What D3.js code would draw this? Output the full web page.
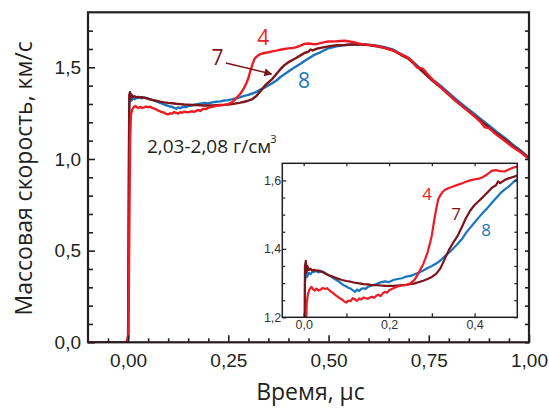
<!DOCTYPE html>
<html>
<head>
<meta charset="utf-8">
<script src="https://cdn.jsdelivr.net/npm/d3@7/dist/d3.min.js"></script>
<style>
  html, body { margin: 0; padding: 0; background: #fff; }
  svg { display: block; font-family: "Open Sans", "Noto Sans", sans-serif; }
</style>
</head>
<body>
<svg id="chart" width="549" height="408"></svg>
<script>
// ---------------- data ----------------
const seriesNames = ["8", "7", "4"];
const series8 = [[-0.1,0],[-0.004,0],[0,0.02],[0.002,0.9],[0.003,1.3],[0.005,1.325],[0.008,1.318],[0.012,1.33],[0.016,1.326],[0.02,1.332],[0.025,1.333],[0.03,1.335],[0.035,1.331],[0.04,1.336],[0.045,1.333],[0.05,1.33],[0.055,1.325],[0.06,1.322],[0.065,1.318],[0.07,1.314],[0.075,1.31],[0.08,1.306],[0.085,1.302],[0.09,1.297],[0.095,1.293],[0.1,1.29],[0.105,1.286],[0.11,1.284],[0.115,1.279],[0.12,1.274],[0.125,1.281],[0.13,1.277],[0.135,1.283],[0.14,1.285],[0.145,1.283],[0.15,1.289],[0.16,1.293],[0.17,1.297],[0.18,1.302],[0.19,1.305],[0.2,1.303],[0.21,1.309],[0.22,1.312],[0.23,1.314],[0.24,1.319],[0.25,1.321],[0.26,1.326],[0.27,1.331],[0.28,1.337],[0.29,1.344],[0.3,1.35],[0.31,1.357],[0.32,1.366],[0.33,1.378],[0.34,1.389],[0.35,1.401],[0.36,1.414],[0.37,1.428],[0.38,1.447],[0.39,1.462],[0.4,1.477],[0.41,1.492],[0.42,1.506],[0.43,1.519],[0.44,1.534],[0.45,1.548],[0.46,1.562],[0.47,1.573],[0.48,1.582],[0.49,1.594],[0.5,1.604],[0.52,1.615],[0.54,1.621],[0.56,1.624],[0.58,1.625],[0.6,1.623],[0.62,1.618],[0.64,1.61],[0.66,1.598],[0.68,1.573],[0.7,1.551],[0.72,1.512],[0.74,1.472],[0.76,1.433],[0.78,1.398],[0.8,1.36],[0.82,1.322],[0.84,1.287],[0.86,1.252],[0.88,1.217],[0.9,1.183],[0.92,1.147],[0.94,1.115],[0.96,1.078],[0.98,1.045],[1.0,1.008]];
const series7 = [[-0.1,0],[-0.004,0],[0,0.02],[0.002,0.9],[0.003,1.35],[0.005,1.365],[0.007,1.33],[0.009,1.35],[0.012,1.338],[0.016,1.342],[0.02,1.336],[0.025,1.339],[0.03,1.336],[0.035,1.337],[0.04,1.333],[0.045,1.332],[0.05,1.328],[0.06,1.322],[0.07,1.318],[0.08,1.313],[0.09,1.309],[0.1,1.306],[0.11,1.304],[0.12,1.301],[0.13,1.299],[0.14,1.297],[0.15,1.296],[0.16,1.294],[0.17,1.294],[0.18,1.293],[0.19,1.292],[0.2,1.292],[0.21,1.292],[0.22,1.293],[0.23,1.294],[0.24,1.295],[0.25,1.297],[0.26,1.299],[0.27,1.303],[0.28,1.307],[0.29,1.312],[0.3,1.318],[0.31,1.327],[0.32,1.343],[0.33,1.37],[0.34,1.397],[0.35,1.418],[0.36,1.437],[0.37,1.463],[0.38,1.49],[0.39,1.512],[0.4,1.528],[0.41,1.54],[0.42,1.552],[0.43,1.565],[0.44,1.578],[0.45,1.586],[0.455,1.597],[0.46,1.592],[0.47,1.601],[0.48,1.606],[0.49,1.61],[0.5,1.614],[0.52,1.62],[0.54,1.622],[0.56,1.625],[0.58,1.624],[0.6,1.621],[0.62,1.615],[0.64,1.606],[0.66,1.593],[0.68,1.568],[0.7,1.545],[0.72,1.505],[0.74,1.465],[0.76,1.425],[0.78,1.39],[0.8,1.35],[0.82,1.312],[0.84,1.277],[0.86,1.242],[0.88,1.207],[0.9,1.172],[0.92,1.137],[0.94,1.106],[0.96,1.07],[0.98,1.04],[1.0,1.004]];
const series4 = [[-0.1,0],[-0.003,0],[0.001,0.05],[0.003,0.6],[0.005,1.1],[0.007,1.24],[0.01,1.268],[0.014,1.283],[0.018,1.289],[0.022,1.282],[0.026,1.278],[0.03,1.284],[0.035,1.278],[0.04,1.281],[0.045,1.286],[0.05,1.283],[0.055,1.285],[0.06,1.279],[0.065,1.274],[0.07,1.27],[0.075,1.264],[0.08,1.26],[0.085,1.255],[0.09,1.252],[0.095,1.246],[0.1,1.243],[0.105,1.249],[0.11,1.247],[0.115,1.256],[0.12,1.252],[0.125,1.248],[0.13,1.255],[0.135,1.252],[0.14,1.258],[0.145,1.256],[0.15,1.254],[0.155,1.258],[0.16,1.26],[0.165,1.257],[0.17,1.263],[0.175,1.266],[0.18,1.262],[0.185,1.27],[0.19,1.274],[0.195,1.272],[0.2,1.279],[0.21,1.285],[0.22,1.29],[0.23,1.293],[0.24,1.295],[0.25,1.299],[0.26,1.31],[0.27,1.332],[0.28,1.356],[0.285,1.372],[0.29,1.39],[0.295,1.413],[0.3,1.44],[0.305,1.48],[0.31,1.515],[0.315,1.545],[0.32,1.557],[0.325,1.566],[0.33,1.572],[0.34,1.578],[0.35,1.582],[0.36,1.587],[0.37,1.591],[0.38,1.596],[0.39,1.6],[0.4,1.603],[0.41,1.605],[0.42,1.61],[0.43,1.618],[0.44,1.628],[0.45,1.63],[0.46,1.627],[0.47,1.626],[0.48,1.632],[0.49,1.637],[0.5,1.641],[0.52,1.642],[0.54,1.645],[0.56,1.638],[0.58,1.628],[0.6,1.622],[0.62,1.616],[0.64,1.605],[0.66,1.592],[0.68,1.572],[0.7,1.55],[0.71,1.53],[0.72,1.5],[0.735,1.493],[0.75,1.455],[0.76,1.43],[0.78,1.39],[0.8,1.352],[0.82,1.312],[0.84,1.276],[0.86,1.24],[0.88,1.2],[0.89,1.172],[0.9,1.168],[0.92,1.13],[0.94,1.098],[0.96,1.064],[0.98,1.035],[1.0,1.0]];

const xTickValues = [0, 0.25, 0.5, 0.75, 1.0];
const xTickLabels = ["0,00", "0,25", "0,50", "0,75", "1,00"];
const xMinorTicks = [-0.05,0.05,0.1,0.15,0.2,0.3,0.35,0.4,0.45,0.55,0.6,0.65,0.7,0.8,0.85,0.9,0.95];
const yTickValues = [0, 0.5, 1.0, 1.5];
const yTickLabels = ["0,0", "0,5", "1,0", "1,5"];
const yMinorTicks = [0.1,0.2,0.3,0.4,0.6,0.7,0.8,0.9,1.1,1.2,1.3,1.4,1.6,1.7];

const insetXTickValues = [0, 0.2, 0.4];
const insetXTickLabels = ["0,0", "0,2", "0,4"];
const insetXMinorTicks = [0.1, 0.3];
const insetYTickValues = [1.2, 1.4, 1.6];
const insetYTickLabels = ["1,2", "1,4", "1,6"];
const insetYMinorTicks = [1.25, 1.3, 1.35, 1.45, 1.5, 1.55];

const xTitle = "Время, μс";
const yTitle = "Массовая скорость, км/с";
const densityText = "2,03-2,08 г/см";

// ---------------- style ----------------
const colors = { "4": "#ed1c24", "7": "#7d1419", "8": "#1b75bc" };
const axisColor = "#231f20";
const textColor = "#231f20";

const svg = d3.select("#chart");

// main scales
const x = d3.scaleLinear().domain([-0.1, 1.0]).range([88, 529]);
const y = d3.scaleLinear().domain([0, 1.8]).range([342.3, 12.3]);
// inset scales
const xi = d3.scaleLinear().domain([-0.05, 0.5]).range([282.3, 517.3]);
const yi = d3.scaleLinear().domain([1.2, 1.65]).range([317.3, 163.3]);

const dataMap = { "4": series4, "7": series7, "8": series8 };

const defs = svg.append("defs");
defs.append("clipPath").attr("id", "clipMain").append("rect")
  .attr("x", x(-0.1)).attr("y", y(1.8)).attr("width", x(1.0) - x(-0.1)).attr("height", y(0) - y(1.8));
defs.append("clipPath").attr("id", "clipInset").append("rect")
  .attr("x", xi(-0.05)).attr("y", yi(1.65)).attr("width", xi(0.5) - xi(-0.05)).attr("height", yi(1.2) - yi(1.65));
defs.append("marker").attr("id", "arrow").attr("viewBox", "0 0 10 10")
  .attr("refX", 9).attr("refY", 5).attr("markerWidth", 10).attr("markerHeight", 8)
  .attr("markerUnits", "userSpaceOnUse").attr("orient", "auto")
  .append("path").attr("d", "M0,0 L10,5 L0,10 z").attr("fill", colors["7"]);

// ---------------- main lines ----------------
const lineMain = d3.line().x(d => x(d[0])).y(d => y(d[1]));
const gMain = svg.append("g").attr("clip-path", "url(#clipMain)");
seriesNames.forEach(n => {
  gMain.append("path").datum(dataMap[n]).attr("d", lineMain)
    .attr("fill", "none").attr("stroke", colors[n]).attr("stroke-width", 2.4)
    .attr("stroke-linejoin", "round");
});

// ---------------- main axes ----------------
function styleAxis(g) {
  g.select(".domain").remove();
  g.selectAll("line").attr("stroke", axisColor).attr("stroke-width", 1.6);
  g.selectAll("text").attr("fill", textColor);
}
svg.append("g").attr("transform", `translate(0,${y(0)})`)
  .call(d3.axisBottom(x).tickValues(xMinorTicks).tickFormat("").tickSizeInner(-4).tickSizeOuter(0))
  .call(styleAxis);
svg.append("g").attr("transform", `translate(0,${y(0)})`)
  .call(d3.axisBottom(x).tickValues(xTickValues).tickFormat((d, i) => xTickLabels[i]).tickSizeInner(-7).tickSizeOuter(0).tickPadding(11))
  .call(styleAxis)
  .selectAll("text").attr("font-size", 19);
svg.append("g").attr("transform", `translate(${x(-0.1)},0)`)
  .call(d3.axisLeft(y).tickValues(yMinorTicks).tickFormat("").tickSizeInner(-5).tickSizeOuter(0))
  .call(styleAxis);
svg.append("g").attr("transform", `translate(${x(-0.1)},0)`)
  .call(d3.axisLeft(y).tickValues(yTickValues).tickFormat((d, i) => yTickLabels[i]).tickSizeInner(-7).tickSizeOuter(0).tickPadding(7))
  .call(styleAxis)
  .selectAll("text").attr("font-size", 19);
// right side ticks
svg.append("g").attr("transform", `translate(${x(1.0)},0)`)
  .call(d3.axisRight(y).tickValues(yMinorTicks.concat(yTickValues)).tickFormat("").tickSizeInner(-4).tickSizeOuter(0))
  .call(styleAxis);

// frame
svg.append("rect").attr("x", x(-0.1)).attr("y", y(1.8))
  .attr("width", x(1.0) - x(-0.1)).attr("height", y(0) - y(1.8))
  .attr("fill", "none").attr("stroke", axisColor).attr("stroke-width", 2.2);

// titles
svg.append("text").attr("x", x(0.455)).attr("y", 400).attr("text-anchor", "middle")
  .attr("font-size", 23).attr("fill", textColor).text(xTitle);
svg.append("text").attr("transform", `translate(32,${(y(0) + y(1.8)) / 2 + 1}) rotate(-90)`)
  .attr("text-anchor", "middle").attr("font-size", 23).attr("fill", textColor).text(yTitle);

// annotations (data units)
const dens = svg.append("text").attr("x", x(0.047)).attr("y", y(1.033))
  .attr("font-size", 19).attr("fill", textColor);
dens.append("tspan").text(densityText);
dens.append("tspan").attr("font-size", 11).attr("dy", -10).attr("dx", -1).text("3");

const labelsMain = [
  { n: "4", t: 0.337, v: 1.622 },
  { n: "7", t: 0.223, v: 1.513 },
  { n: "8", t: 0.439, v: 1.387 }
];
labelsMain.forEach(l => {
  svg.append("text").attr("x", x(l.t)).attr("y", y(l.v)).attr("text-anchor", "middle")
    .attr("font-size", 21).attr("fill", colors[l.n]).text(l.n);
});
const arrowFrom = [0.244, 1.524], arrowTo = [0.358, 1.463];
svg.append("line").attr("x1", x(arrowFrom[0])).attr("y1", y(arrowFrom[1]))
  .attr("x2", x(arrowTo[0])).attr("y2", y(arrowTo[1]))
  .attr("stroke", colors["7"]).attr("stroke-width", 1.5).attr("marker-end", "url(#arrow)");

// ---------------- inset ----------------
svg.append("rect").attr("x", xi(-0.05)).attr("y", yi(1.65))
  .attr("width", xi(0.5) - xi(-0.05)).attr("height", yi(1.2) - yi(1.65)).attr("fill", "#fff");
const lineInset = d3.line().x(d => xi(d[0])).y(d => yi(d[1]));
const gInset = svg.append("g").attr("clip-path", "url(#clipInset)");
seriesNames.forEach(n => {
  gInset.append("path").datum(dataMap[n]).attr("d", lineInset)
    .attr("fill", "none").attr("stroke", colors[n]).attr("stroke-width", 2.2)
    .attr("stroke-linejoin", "round");
});
function styleInset(g) {
  g.select(".domain").remove();
  g.selectAll("line").attr("stroke", axisColor).attr("stroke-width", 1.2);
  g.selectAll("text").attr("fill", "#333").attr("font-size", 12.5);
}
svg.append("g").attr("transform", `translate(0,${yi(1.2)})`)
  .call(d3.axisBottom(xi).tickValues(insetXTickValues).tickFormat((d, i) => insetXTickLabels[i]).tickSizeInner(-4).tickSizeOuter(0).tickPadding(3))
  .call(styleInset);
svg.append("g").attr("transform", `translate(0,${yi(1.2)})`)
  .call(d3.axisBottom(xi).tickValues(insetXMinorTicks).tickFormat("").tickSizeInner(-4).tickSizeOuter(0))
  .call(styleInset);
svg.append("g").attr("transform", `translate(0,${yi(1.65)})`)
  .call(d3.axisTop(xi).tickValues(insetXTickValues.concat(insetXMinorTicks)).tickFormat("").tickSizeInner(-3).tickSizeOuter(0))
  .call(styleInset);
svg.append("g").attr("transform", `translate(${xi(-0.05)},0)`)
  .call(d3.axisLeft(yi).tickValues(insetYTickValues).tickFormat((d, i) => insetYTickLabels[i]).tickSizeInner(-4).tickSizeOuter(0).tickPadding(1))
  .call(styleInset);
svg.append("g").attr("transform", `translate(${xi(-0.05)},0)`)
  .call(d3.axisLeft(yi).tickValues(insetYMinorTicks).tickFormat("").tickSizeInner(-3).tickSizeOuter(0))
  .call(styleInset);
svg.append("g").attr("transform", `translate(${xi(0.5)},0)`)
  .call(d3.axisRight(yi).tickValues(insetYTickValues.concat(insetYMinorTicks)).tickFormat("").tickSizeInner(-3).tickSizeOuter(0))
  .call(styleInset);
svg.append("rect").attr("x", xi(-0.05)).attr("y", yi(1.65))
  .attr("width", xi(0.5) - xi(-0.05)).attr("height", yi(1.2) - yi(1.65))
  .attr("fill", "none").attr("stroke", axisColor).attr("stroke-width", 1.5);

const labelsInset = [
  { n: "4", t: 0.289, v: 1.543 },
  { n: "7", t: 0.357, v: 1.485 },
  { n: "8", t: 0.427, v: 1.437 }
];
labelsInset.forEach(l => {
  svg.append("text").attr("x", xi(l.t)).attr("y", yi(l.v)).attr("text-anchor", "middle")
    .attr("font-size", 17).attr("fill", colors[l.n]).text(l.n);
});
</script>
</body>
</html>
